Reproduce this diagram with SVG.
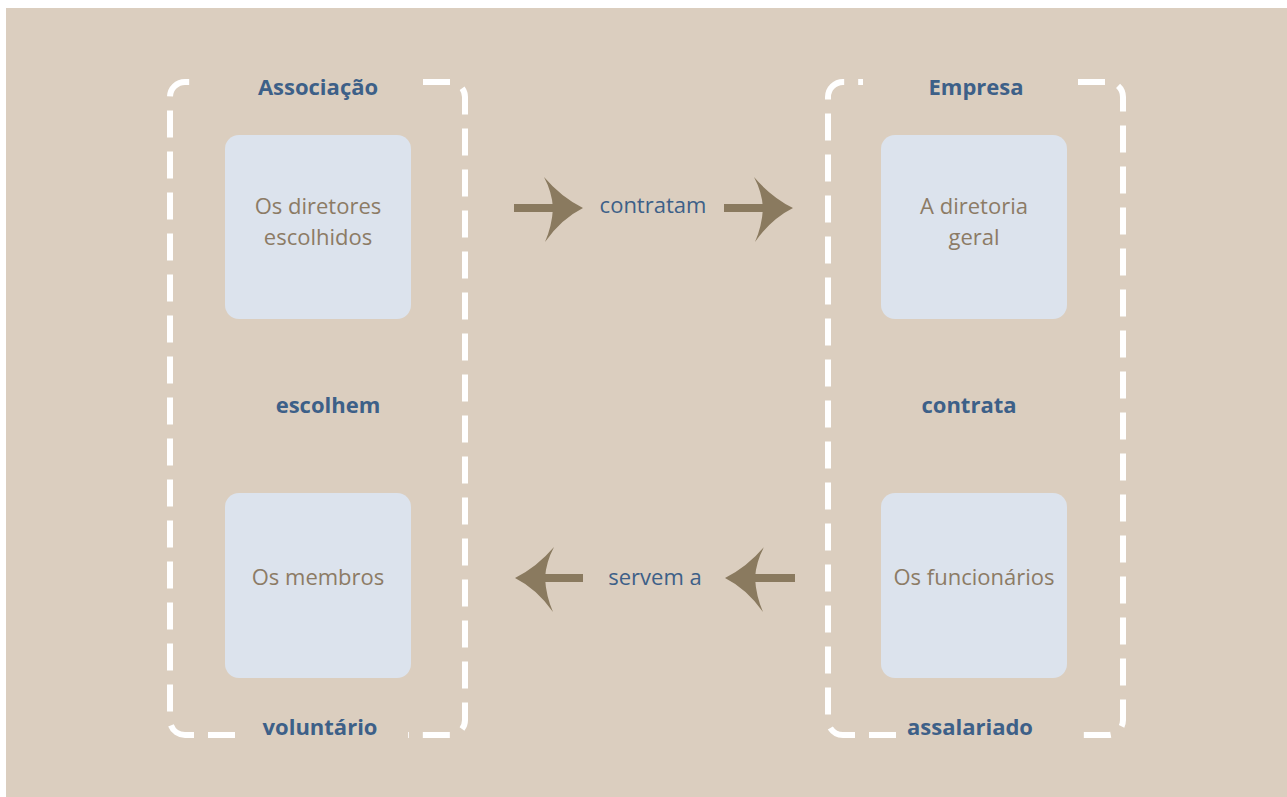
<svg xmlns="http://www.w3.org/2000/svg" width="1287" height="797" viewBox="0 0 1287 797">
<defs>
<style>
.bg{fill:#dbcebf}
.frame{fill:none;stroke:#ffffff;stroke-width:6;stroke-dasharray:27 14}
.node{fill:#dce3ed}
.nt{font-family:"Open Sans","Noto Sans",sans-serif;font-size:22px;fill:#8c7b65;text-anchor:middle}
.lb{font-family:"Open Sans","Noto Sans",sans-serif;font-size:22px;font-weight:bold;fill:#3d6088;text-anchor:middle}
.el{font-family:"Open Sans","Noto Sans",sans-serif;font-size:22px;fill:#3d6088;text-anchor:middle}
.shaft{stroke:#8a7a5f;stroke-width:8;fill:none}
.head{fill:#8a7a5f}
</style>
<path id="headR" d="M0,-31 Q17,-11 39,0 Q17,11 1,34 Q8,18 9,0 Q8,-16 0,-31 Z"/>
</defs>
<rect class="bg" x="6" y="8" width="1281" height="789"/>

<g id="associacao">
<path class="frame" d="M423,82 H450 A15,15 0 0 1 465,97 V720 A15,15 0 0 1 450,735 H408"/>
<path class="frame" d="M235,735 H185 A15,15 0 0 1 170,720 V97 A15,15 0 0 1 185,82 H203"/>
<text class="lb" x="318" y="95">Associação</text>
<text class="lb" x="328" y="413">escolhem</text>
<text class="lb" x="320" y="735">voluntário</text>
</g>

<g id="empresa">
<path class="frame" d="M1078,82 H1108 A15,15 0 0 1 1123,97 V720 A15,15 0 0 1 1108,735 H1073"/>
<path class="frame" d="M896,735 H843 A15,15 0 0 1 828,720 V97 A15,15 0 0 1 843,82 H863"/>
<text class="lb" x="976" y="95">Empresa</text>
<text class="lb" x="969" y="413">contrata</text>
<text class="lb" x="970" y="735">assalariado</text>
</g>

<g id="diretores">
<rect class="node" x="225" y="135" width="186" height="184" rx="14"/>
<text class="nt" x="318" y="214">Os diretores</text>
<text class="nt" x="318" y="245">escolhidos</text>
</g>
<g id="membros">
<rect class="node" x="225" y="493" width="186" height="185" rx="14"/>
<text class="nt" x="318" y="585">Os membros</text>
</g>
<g id="diretoria">
<rect class="node" x="881" y="135" width="186" height="184" rx="14"/>
<text class="nt" x="974" y="214">A diretoria</text>
<text class="nt" x="974" y="245">geral</text>
</g>
<g id="funcionarios">
<rect class="node" x="881" y="493" width="186" height="185" rx="14"/>
<text class="nt" x="974" y="585">Os funcionários</text>
</g>

<g id="connectors">
<line class="shaft" x1="514" y1="208" x2="556" y2="208"/>
<use href="#headR" class="head" transform="translate(544,208)"/>
<line class="shaft" x1="724" y1="208" x2="766" y2="208"/>
<use href="#headR" class="head" transform="translate(754,208)"/>
<text class="el" x="653" y="213">contratam</text>
<line class="shaft" x1="542" y1="578" x2="583" y2="578"/>
<use href="#headR" class="head" transform="translate(554,578) scale(-1,1)"/>
<line class="shaft" x1="752" y1="578" x2="795" y2="578"/>
<use href="#headR" class="head" transform="translate(764,578) scale(-1,1)"/>
<text class="el" x="655" y="585">servem a</text>
</g>
</svg>
